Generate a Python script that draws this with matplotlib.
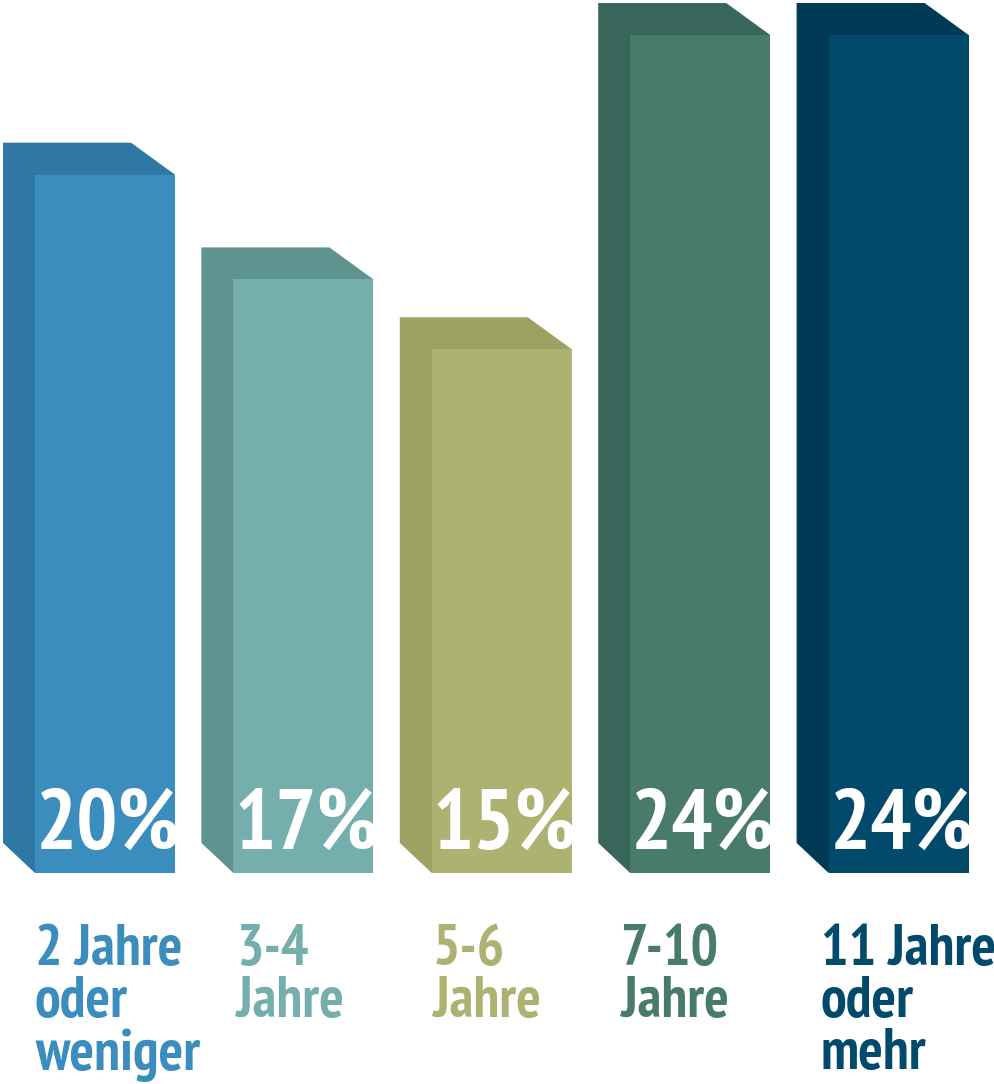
import matplotlib
matplotlib.use("Agg")
import matplotlib.pyplot as plt
from matplotlib.patches import Polygon, Rectangle

categories = ["2 Jahre\noder\nweniger", "3-4\nJahre", "5-6\nJahre", "7-10\nJahre", "11 Jahre\noder\nmehr"]
values = [20, 17, 15, 24, 24]
labels = ["20%", "17%", "15%", "24%", "24%"]
front_colors = ["#3b8dbd", "#74afad", "#adb270", "#487b6a", "#024a6b"]
side_colors = ["#2f78a3", "#5e9390", "#9ca262", "#38665a", "#013a57"]

font = ["PT Sans Narrow", "DejaVu Sans"]

W, H = 995, 1084
fig = plt.figure(figsize=(W / 100, H / 100), dpi=100)
# axes: bottom of bars at y=873px, 24% at y=35px
ax = fig.add_axes([0, (H - 873) / H, 1, (873 - 35) / H])
spacing = 198.4
ax.set_xlim(-105 / spacing, (W - 105) / spacing)
ax.set_ylim(0, 24)
ax.axis("off")

px_x = 1 / spacing          # data units per pixel in x
px_y = 24 / 838             # data units per pixel in y
bw = 140 * px_x
dl, dr, dy = 32 * px_x, 44 * px_x, 32 * px_y
label_shift = [0, 3, 1, -9, -8]   # small horizontal nudges of the labels, px

for i, (v, fc, sc) in enumerate(zip(values, front_colors, side_colors)):
    L, R = i - bw / 2, i + bw / 2
    side = Polygon([(L - dl, v + dy), (R - dr, v + dy), (R, v), (L, 0),
                    (L - dl, dy * 0.94)], closed=True, fc=sc, ec="none", clip_on=False)
    ax.add_patch(side)
    ax.add_patch(Rectangle((L, 0), bw, v, fc=fc, ec="none", clip_on=False))
    ax.text(L + 1 * px_x, 24 * px_y, labels[i], color="white", fontsize=62,
            fontweight="bold", family=font, ha="left", va="baseline")
    ax.text(L + label_shift[i] * px_x, -51 * px_y, categories[i], color=fc, fontsize=41.5,
            fontweight="bold", family=font, ha="left", va="top", linespacing=0.98,
            clip_on=False)

fig.savefig("out.png", dpi=100)
